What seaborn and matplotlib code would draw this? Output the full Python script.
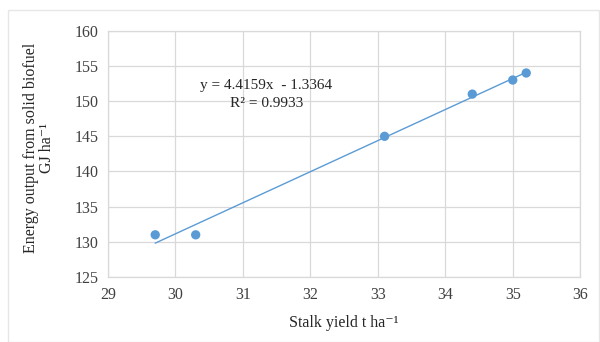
import matplotlib
matplotlib.use("Agg")
import matplotlib.pyplot as plt
import seaborn as sns
import numpy as np
import pandas as pd

# values
stalk_yield = [29.7, 30.3, 33.1, 34.4, 35.0, 35.2]
energy_out = [131, 131, 145, 151, 153, 154]
slope, intercept = 4.4159, -1.3364
r2 = 0.9933
x_ticks = [29, 30, 31, 32, 33, 34, 35, 36]
y_ticks = [125, 130, 135, 140, 145, 150, 155, 160]

df = pd.DataFrame({"x": stalk_yield, "y": energy_out})

sns.set_style("white")
plt.rcParams["font.family"] = ["Liberation Serif", "DejaVu Serif"]

fig = plt.figure(figsize=(6, 3.42), dpi=100)
ax = fig.add_axes([0.18, 0.19, 0.787, 0.72])

# light outer chart border
fig.patches.append(plt.Rectangle((0.013, 0.0), 0.985, 0.97, transform=fig.transFigure,
                                 fill=False, edgecolor="#e6e6e6", linewidth=1))

sns.scatterplot(data=df, x="x", y="y", ax=ax, color="#5b9bd5", s=45,
                edgecolor="none", zorder=3)

xl = np.array([min(stalk_yield), max(stalk_yield)])
ax.plot(xl, slope * xl + intercept, color="#5b9bd5", linewidth=1, zorder=2)

ax.set_xlim(29, 36)
ax.set_ylim(125, 160)
ax.set_xticks(x_ticks)
ax.set_yticks(y_ticks)
ax.grid(True, color="#d9d9d9", linewidth=0.9)
for s in ax.spines.values():
    s.set_color("#d9d9d9")
    s.set_linewidth(0.9)
ax.tick_params(axis="both", length=0, labelsize=11.5, colors="#404040", pad=7)

ax.text(31.35, 152.2, f"y = {slope}x  - {abs(intercept)}", ha="center", va="center",
        fontsize=11, color="#262626")
ax.text(31.35, 149.7, f"R² = {r2}", ha="center", va="center",
        fontsize=11, color="#262626")

ax.set_xlabel("Stalk yield t ha⁻¹", fontsize=11.5, color="#262626", labelpad=9)
ax.set_ylabel("Energy output from solid biofuel\nGJ ha⁻¹", fontsize=11.5,
              color="#262626", labelpad=10, linespacing=1.0)
ax.yaxis.set_label_coords(-0.112, 0.525)

fig.savefig("out.png", dpi=100)
